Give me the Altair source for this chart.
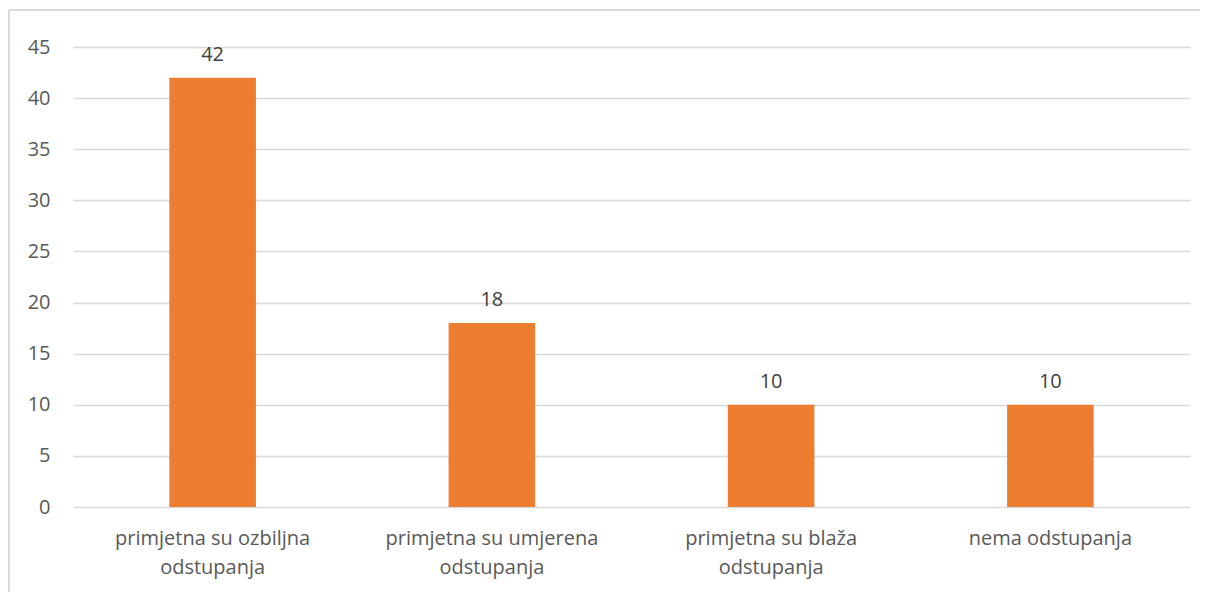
import altair as alt
import pandas as pd

categories = [
    "primjetna su ozbiljna odstupanja",
    "primjetna su umjerena odstupanja",
    "primjetna su blaža odstupanja",
    "nema odstupanja",
]
values = [42, 18, 10, 10]

df = pd.DataFrame({"cat": categories, "val": values})

FONT = "Open Sans"
TXT = "#595959"
FS = 20

label_expr = (
    "datum.label == 'nema odstupanja' ? datum.label : "
    "[replace(datum.label, ' odstupanja', ''), 'odstupanja']"
)

base = alt.Chart(df).encode(
    x=alt.X(
        "cat:N",
        sort=categories,
        title=None,
        scale=alt.Scale(paddingInner=0.69, paddingOuter=0.345),
        axis=alt.Axis(
            labelAngle=0,
            labelExpr=label_expr,
            labelFont=FONT,
            labelFontSize=FS,
            labelColor=TXT,
            labelPadding=21,
            labelLineHeight=29,
            labelLimit=0,
            ticks=False,
            domain=False,
            grid=False,
        ),
    ),
    y=alt.Y(
        "val:Q",
        title=None,
        scale=alt.Scale(domain=[0, 45]),
        axis=alt.Axis(
            values=[0, 5, 10, 15, 20, 25, 30, 35, 40, 45],
            labelFont=FONT,
            labelFontSize=FS,
            labelColor=TXT,
            labelPadding=23,
            ticks=False,
            domain=False,
            gridColor="#d9d9d9",
            gridWidth=1.3,
        ),
    ),
)

bars = base.mark_bar(color="#ED7D31")
texts = base.mark_text(
    baseline="bottom", dy=-13, font=FONT, fontSize=FS, color="#404040"
).encode(text="val:Q")

top_border = alt.Chart(df).mark_rule(stroke="#d9d9d9", strokeWidth=1.5).encode(
    x=alt.value(-64), x2=alt.value(1140), y=alt.value(-37)
)
left_border = alt.Chart(df).mark_rule(stroke="#d9d9d9", strokeWidth=1.5).encode(
    x=alt.value(-64), y=alt.value(-37), y2=alt.value(560)
)

chart = (
    alt.layer(top_border, left_border, bars, texts)
    .properties(
        width=1117,
        height=460,
        padding={"left": 65, "top": 39, "right": 10, "bottom": 85},
        autosize=alt.AutoSizeParams(type="none"),
        background="white",
    )
    .configure_view(strokeWidth=0, stroke="transparent")
)

chart.save("out.html", embed_options={"renderer": "svg", "actions": False})
